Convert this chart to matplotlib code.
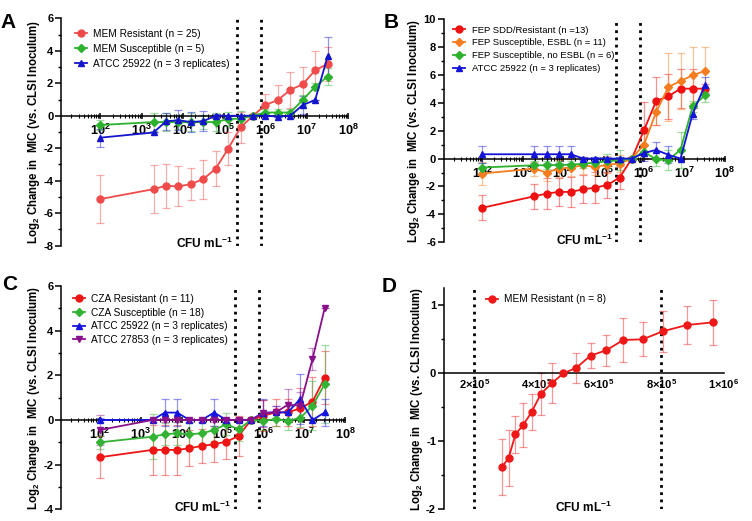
import numpy as np
import matplotlib
matplotlib.use("Agg")
import matplotlib.pyplot as plt
from matplotlib.ticker import FixedLocator, NullFormatter, MultipleLocator

plt.rcParams['font.family'] = ['Liberation Sans', 'DejaVu Sans']
plt.rcParams['mathtext.fontset'] = 'custom'
plt.rcParams['mathtext.rm'] = 'Liberation Sans'
plt.rcParams['mathtext.bf'] = 'Liberation Sans:bold'

# inoculum (CFU/mL), shared by panels A-C
cfu = [1e2, 1.95e3, 3.9e3, 7.8e3, 1.56e4, 3.13e4, 6.25e4, 1.25e5,
       2.5e5, 5e5, 1e6, 2e6, 4e6, 8e6, 1.6e7, 3.2e7]

# A - meropenem
mem_r = [-5.13, -4.52, -4.31, -4.35, -4.21, -3.90, -3.26, -2.03, -0.72, 0, 0.66, 0.97, 1.59, 1.94, 2.80, 3.19]
mem_r_err = [1.5, 1.46, 1.35, 1.23, 1.0, 1.2, 1.07, 1.0, 0.95, 0, 0.7, 0.93, 1.1, 1.05, 1.16, 1.05]
mem_s = [-0.57, -0.39, -0.39, -0.39, -0.39, -0.39, -0.39, -0.2, -0.18, 0, 0.2, 0.2, 0.2, 0.97, 1.79, 2.41]
mem_s_err = [0.3, 0.55, 0.55, 0.45, 0.55, 0.45, 0.55, 0.45, 0.45, 0, 0.2, 0.2, 0.2, 0.3, 0.2, 0.5]
atcc_a = [-1.35, -1.03, -0.35, -0.27, -0.39, -0.33, 0, 0, 0, 0, 0, -0.05, 0, 0.66, 0.97, 3.65]
atcc_a_err = [0.55, 0.0, 0.55, 0.6, 0.6, 0.6, 0.1, 0, 0, 0, 0, 0, 0, 0.55, 0, 1.2]

# B - cefepime
fep_r = [-3.53, -2.70, -2.51, -2.39, -2.39, -2.2, -2.08, -1.89, -1.36, 0, 2.03, 4.13, 4.46, 5.01, 5.01, 5.01]
fep_r_err = [0.9, 0.9, 1.1, 1.0, 1.1, 1.0, 1.1, 0.9, 0.85, 0, 2.0, 1.7, 1.6, 1.4, 1.4, 0.3]
fep_esbl = [-1.07, -0.72, -1.0, -0.72, -0.64, -0.48, -0.6, -0.43, -0.36, 0, 1.0, 3.34, 5.13, 5.56, 5.97, 6.28]
fep_esbl_err = [0.8, 0.5, 0.6, 0.6, 0.6, 0.6, 0.6, 0.6, 0.6, 0, 1.0, 0.9, 2.45, 2.0, 2.0, 1.7]
fep_noesbl = [-0.64, -0.48, -0.48, -0.45, -0.45, -0.36, -0.29, -0.19, -0.12, 0, 0.47, -0.05, -0.12, 0.64, 3.75, 4.53]
fep_noesbl_err = [0.3, 0.3, 0.3, 0.3, 0.3, 0.3, 0.3, 0.5, 0.7, 0, 0.5, 0.5, 0.7, 1.3, 0.4, 0.5]
atcc_b = [0.31, 0.31, 0.31, 0.31, 0.31, 0, 0, 0, 0, 0, 0.4, 0.62, 0.27, 0, 3.22, 5.25]
atcc_b_err = [0.6, 0.6, 0.6, 0.6, 0.6, 0.1, 0.1, 0.1, 0.1, 0, 0.6, 0.6, 0.6, 0, 0.4, 0.6]

# C - ceftazidime-avibactam
cza_r = [-1.67, -1.34, -1.34, -1.34, -1.27, -1.16, -1.09, -0.97, -0.72, 0, 0.19, 0.34, 0.34, 0.52, 0.82, 1.9]
cza_r_err = [0.95, 1.12, 1.12, 1.12, 0.8, 0.75, 0.8, 0.8, 0.9, 0, 0.7, 0.6, 0.6, 0.9, 1.1, 1.2]
cza_s = [-1.0, -0.75, -0.64, -0.6, -0.64, -0.6, -0.45, -0.19, -0.42, 0, -0.04, 0.04, -0.04, 0.09, 0.64, 1.61]
cza_s_err = [0.3, 1.0, 0.5, 0.5, 0.5, 0.5, 0.5, 0.5, 0.5, 0, 0.4, 0.3, 0.4, 0.4, 1.1, 1.75]
atcc_c1 = [0, 0, 0.33, 0.33, 0, 0, 0.33, 0, 0, 0, 0.33, 0.34, 0.34, 0.94, 0, 0.34]
atcc_c1_err = [0.1, 0, 0.6, 0.6, 0, 0, 0.6, 0, 0, 0, 0.6, 0.3, 0.3, 1.1, 0, 0.6]
atcc_c2 = [-0.45, 0, 0, 0, 0, 0, 0, 0, 0, 0, 0.3, 0.34, 0.68, 0.64, 2.73, 5.03]
atcc_c2_err = [0.65, 0.1, 0.1, 0.1, 0.1, 0.1, 0.1, 0.1, 0.1, 0, 0.6, 0.3, 0.7, 0.6, 0.5, 0]

# D - meropenem, narrow inoculum range
cfu_d = [2.88e5, 3.1e5, 3.32e5, 3.57e5, 3.84e5, 4.14e5, 4.5e5, 4.86e5,
         5.27e5, 5.73e5, 6.24e5, 6.78e5, 7.4e5, 8.06e5, 8.82e5, 9.66e5]
mem_d = [-1.38, -1.25, -0.90, -0.76, -0.57, -0.30, -0.14, 0.0, 0.08, 0.26, 0.34, 0.49, 0.50, 0.62, 0.71, 0.75]
mem_d_err = [0.41, 0.41, 0.27, 0.32, 0.27, 0.31, 0.29, 0, 0.22, 0.18, 0.23, 0.32, 0.25, 0.30, 0.28, 0.33]

breakpoints = [2e5, 8e5]
ylabel = r'Log$_\mathbf{2}$ Change in  MIC (vs. CLSI Inoculum)'

fig = plt.figure(figsize=(7.52, 5.21), dpi=100)
axA = fig.add_axes([0.0811, 0.5284, 0.3817, 0.4365])
axB = fig.add_axes([0.590, 0.5349, 0.374, 0.4286])
axC = fig.add_axes([0.0811, 0.0225, 0.3777, 0.4286])
axD = fig.add_axes([0.590, 0.0225, 0.3724, 0.4241])


def series(ax, x, y, e, color, marker, label, ms=5):
    ax.errorbar(x, y, yerr=e, fmt='none', ecolor=color, alpha=0.45,
                capsize=2.6, elinewidth=0.9, capthick=0.9, zorder=2)
    ax.plot(x, y, marker=marker, color=color, ms=ms, lw=1.3, label=label, zorder=3)


def style(ax, ylim, major, log=True):
    for s in ['top', 'right']:
        ax.spines[s].set_visible(False)
    ax.spines['bottom'].set_position(('data', 0))
    ax.spines['left'].set_linewidth(1.1)
    ax.spines['bottom'].set_linewidth(1.1)
    ax.set_ylim(*ylim)
    ax.yaxis.set_major_locator(MultipleLocator(major))
    ax.yaxis.set_minor_locator(MultipleLocator(major / 2))
    ax.yaxis.set_major_formatter(plt.FuncFormatter(lambda v, p: '%g' % v))
    ax.tick_params(axis='y', which='major', length=4, width=1.1, labelsize=8, pad=1.5)
    ax.tick_params(axis='y', which='minor', length=2.5, width=1.0)
    for t in ax.get_yticklabels():
        t.set_fontweight('bold')
    if log:
        ax.set_xscale('log')
        ax.set_xlim(10 ** 1.05, 1e8)
        dec = [10.0 ** k for k in range(2, 9)]
        ax.xaxis.set_major_locator(FixedLocator(dec))
        ax.set_xticklabels([r'$\mathbf{10^{%d}}$' % k for k in range(2, 9)])
        minors = [m * 10.0 ** k for k in range(1, 8) for m in range(2, 10)]
        ax.xaxis.set_minor_locator(FixedLocator(minors))
        ax.xaxis.set_minor_formatter(NullFormatter())
        ax.tick_params(axis='x', which='major', length=4, width=1.1, labelsize=9.2, direction='inout', pad=3)
        ax.tick_params(axis='x', which='minor', length=2.5, width=0.8, direction='inout')
    for xb in breakpoints:
        ax.axvline(xb, color='black', ls=(0, (1, 1.6)), lw=2.0, zorder=1)
    ax.set_ylabel(ylabel, fontsize=8.3, fontweight='bold', labelpad=1)
    ax.text(0.5, 0.01, r'CFU mL$^\mathbf{-1}$', transform=ax.transAxes, ha='center',
            va='center', fontsize=8.6, fontweight='bold')


leg_kw = dict(loc='upper left', frameon=False, borderaxespad=0, borderpad=0)

# A
series(axA, cfu, mem_r, mem_r_err, '#F04B4B', 'o', 'MEM Resistant (n = 25)')
series(axA, cfu, mem_s, mem_s_err, '#2DB22D', 'D', 'MEM Susceptible (n = 5)', ms=4.2)
series(axA, cfu, atcc_a, atcc_a_err, '#1414CC', '^', 'ATCC 25922 (n = 3 replicates)')
style(axA, (-8, 6), 2)
axA.legend(bbox_to_anchor=(0.049, 0.955), fontsize=7.3, handlelength=1.2,
           handletextpad=0.6, labelspacing=0.5, **leg_kw)

# B
series(axB, cfu, fep_r, fep_r_err, '#EE1111', 'o', 'FEP SDD/Resistant (n =13)')
series(axB, cfu, fep_esbl, fep_esbl_err, '#F57D1F', 'D', 'FEP Susceptible, ESBL (n = 11)', ms=4.2)
series(axB, cfu, fep_noesbl, fep_noesbl_err, '#2DB22D', 'D', 'FEP Susceptible, no ESBL (n = 6)', ms=4.2)
series(axB, cfu, atcc_b, atcc_b_err, '#1414D8', '^', 'ATCC 25922 (n = 3 replicates)')
style(axB, (-6, 10), 2)
axB.legend(bbox_to_anchor=(0.033, 0.97), fontsize=6.8, handlelength=1.27,
           handletextpad=0.7, labelspacing=0.4, **leg_kw)

# C
series(axC, cfu, cza_r, cza_r_err, '#EE1515', 'o', 'CZA Resistant (n = 11)')
series(axC, cfu, cza_s, cza_s_err, '#33B233', 'D', 'CZA Susceptible (n = 18)', ms=4.2)
series(axC, cfu, atcc_c1, atcc_c1_err, '#1414E0', '^', 'ATCC 25922 (n = 3 replicates)')
series(axC, cfu, atcc_c2, atcc_c2_err, '#8B108B', 'v', 'ATCC 27853 (n = 3 replicates)')
style(axC, (-4, 6), 2)
axC.legend(bbox_to_anchor=(0.041, 0.964), fontsize=7.3, handlelength=1.2,
           handletextpad=0.6, labelspacing=0.35, **leg_kw)

# D
series(axD, cfu_d, mem_d, mem_d_err, '#EE1818', 'o', 'MEM Resistant (n = 8)')
style(axD, (-2, 1.25), 1, log=False)
axD.set_xlim(1.02e5, 1e6)
axD.xaxis.set_major_locator(FixedLocator([2e5, 4e5, 6e5, 8e5, 1e6]))
axD.set_xticklabels([r'$\mathbf{2{\times}10^{5}}$', r'$\mathbf{4{\times}10^{5}}$',
                     r'$\mathbf{6{\times}10^{5}}$', r'$\mathbf{8{\times}10^{5}}$',
                     r'$\mathbf{1{\times}10^{6}}$'])
axD.tick_params(axis='x', which='major', length=0, labelsize=8, pad=3)
axD.legend(bbox_to_anchor=(0.151, 0.974), fontsize=7.3, handlelength=1.2,
           handletextpad=0.6, **leg_kw)

for lab, (x, y) in zip('ABCD', [(8, 23), (391, 23), (10, 285), (389, 287)]):
    fig.text(x / 752, 1 - y / 521, lab, fontsize=15, fontweight='bold', ha='center', va='center')

fig.savefig('out.png', dpi=100)
